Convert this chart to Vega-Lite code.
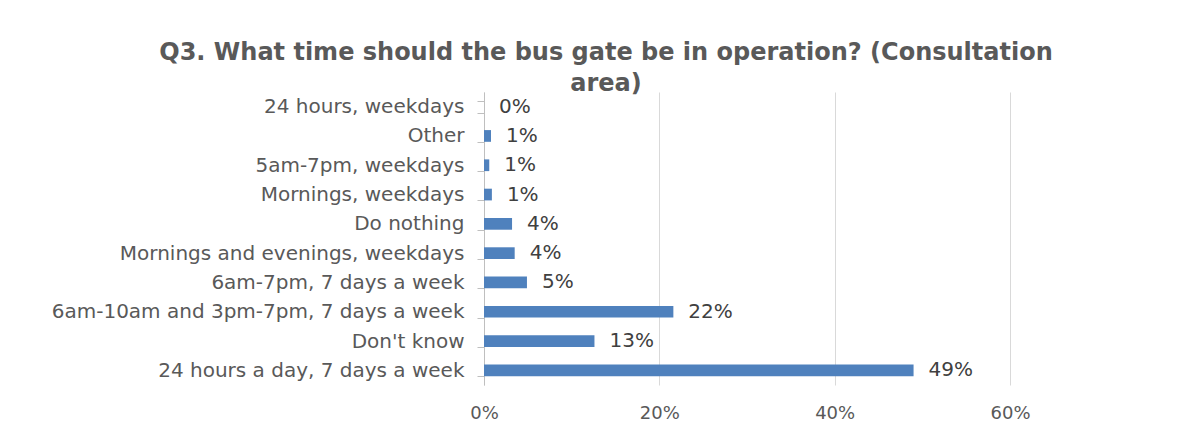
{
  "$schema": "https://vega.github.io/schema/vega-lite/v6.json",
  "width": 526,
  "height": 293,
  "autosize": {"type": "none"},
  "padding": {"left": 484, "top": 92, "right": 193, "bottom": 46},
  "background": "white",
  "title": {
    "text": ["Q3. What time should the bus gate be in operation? (Consultation", "area)"],
    "anchor": "middle",
    "frame": "group",
    "dx": -141,
    "offset": 0,
    "dy": 14,
    "font": "DejaVu Sans",
    "fontSize": 24,
    "fontWeight": "bold",
    "color": "#595959",
    "lineHeight": 31
  },
  "data": {
    "values": [
      {"option": "24 hours, weekdays", "share": 0.0, "label": "0%"},
      {"option": "Other", "share": 0.008, "label": "1%"},
      {"option": "5am-7pm, weekdays", "share": 0.006, "label": "1%"},
      {"option": "Mornings, weekdays", "share": 0.009, "label": "1%"},
      {"option": "Do nothing", "share": 0.032, "label": "4%"},
      {"option": "Mornings and evenings, weekdays", "share": 0.035, "label": "4%"},
      {"option": "6am-7pm, 7 days a week", "share": 0.049, "label": "5%"},
      {"option": "6am-10am and 3pm-7pm, 7 days a week", "share": 0.216, "label": "22%"},
      {"option": "Don't know", "share": 0.126, "label": "13%"},
      {"option": "24 hours a day, 7 days a week", "share": 0.49, "label": "49%"}
    ]
  },
  "encoding": {
    "y": {
      "field": "option",
      "type": "nominal",
      "sort": null,
      "scale": {"paddingInner": 0.6, "paddingOuter": 0.3},
      "axis": {
        "title": null,
        "domainColor": "#bfbfbf",
        "tickColor": "#bfbfbf",
        "tickBand": "extent",
        "tickSize": 7,
        "labelPadding": 13,
        "labelFont": "DejaVu Sans",
        "labelFontSize": 20,
        "labelColor": "#595959",
        "labelLimit": 600
      }
    },
    "x": {
      "field": "share",
      "type": "quantitative",
      "scale": {"domain": [0, 0.6], "nice": false},
      "axis": {
        "title": null,
        "format": ".0%",
        "values": [0, 0.2, 0.4, 0.6],
        "domain": false,
        "ticks": false,
        "grid": true,
        "gridColor": "#d9d9d9",
        "labelFlush": false,
        "labelPadding": 19,
        "labelFont": "DejaVu Sans",
        "labelFontSize": 18,
        "labelColor": "#595959"
      }
    }
  },
  "layer": [
    {"mark": {"type": "bar", "color": "#4f81bd"}},
    {
      "mark": {"type": "text", "align": "left", "dx": 15, "font": "DejaVu Sans", "fontSize": 20, "color": "#404040"},
      "encoding": {"text": {"field": "label"}}
    }
  ],
  "config": {"view": {"stroke": null}}
}
